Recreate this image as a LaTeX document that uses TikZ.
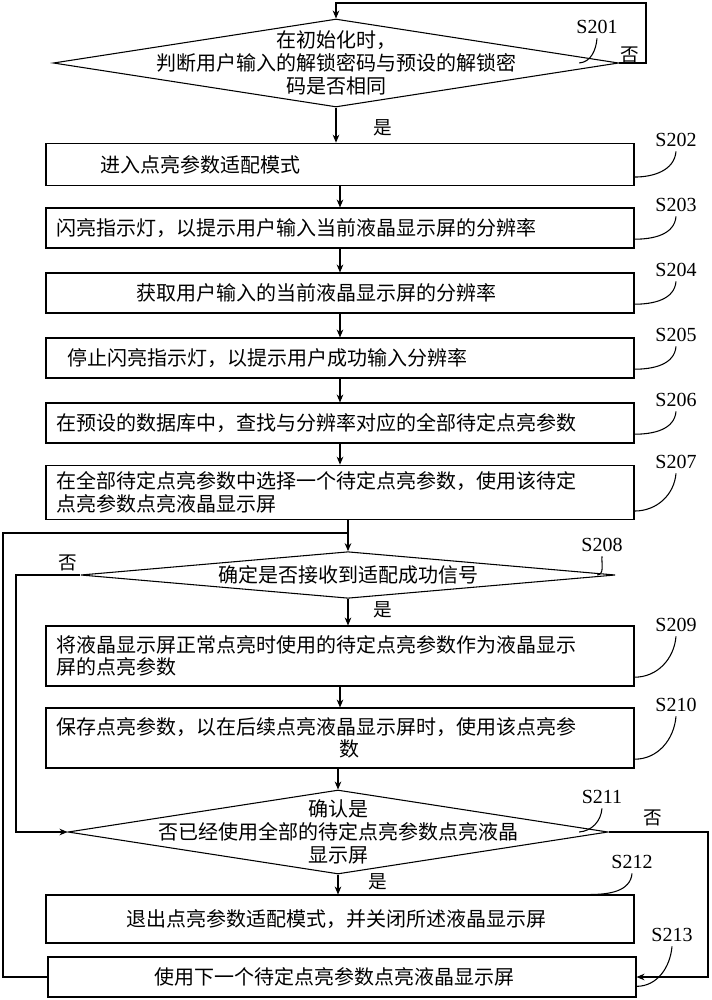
\documentclass[tikz,border=0pt]{standalone}
\usepackage{fontspec}
\setmainfont{Liberation Serif}
\newfontfamily\cjk{Noto Sans CJK SC}
\usetikzlibrary{shapes.geometric,arrows.meta}
\tikzset{
  box/.style={draw, thick, minimum width=441pt, inner sep=0pt, font=\cjk\fontsize{15}{17}\selectfont},
  dia/.style={draw, thick, diamond, inner sep=0pt},
  txt/.style={font=\cjk\fontsize{15}{17}\selectfont, align=center},
  lbl/.style={font=\fontsize{15}{17}\selectfont},
  yn/.style={font=\cjk\fontsize{14}{16}\selectfont},
  flow/.style={thick, -{Stealth[length=6pt,width=5pt]}},
  lead/.style={thick}
}
\begin{document}
\begin{tikzpicture}[x=0.75pt, y=-0.75pt]
  \useasboundingbox (0,0) rectangle (711,1000);

  % decisions
  \node [dia, minimum width=424pt, minimum height=66pt] (d201) at (336,63) {};
  \node [txt] (t201) at (336,63) {在初始化时，\\判断用户输入的解锁密码与预设的解锁密\\码是否相同};
  \node [dia, minimum width=401pt, minimum height=35pt] (d208) at (348,575) {};
  \node [txt] (t208) at (348,575) {确定是否接收到适配成功信号};
  \node [dia, minimum width=405pt, minimum height=63pt] (d211) at (338,832) {};
  \node [txt] (t211) at (338,832) {确认是\\否已经使用全部的待定点亮参数点亮液晶\\显示屏};

  % process boxes
  \node [box, minimum height=32pt, text width=425pt, align=left] (b202) at (340,164.5) {\hspace{33pt}进入点亮参数适配模式};
  \node [box, minimum height=30pt, text width=425pt, align=left] (b203) at (340,228) {闪亮指示灯，以提示用户输入当前液晶显示屏的分辨率};
  \node [box, minimum height=30pt, text width=425pt, align=left] (b204) at (340,293) {\hspace{60pt}获取用户输入的当前液晶显示屏的分辨率};
  \node [box, minimum height=30pt, text width=425pt, align=left] (b205) at (340,358) {\hspace{8pt}停止闪亮指示灯，以提示用户成功输入分辨率};
  \node [box, minimum height=30pt, text width=425pt, align=left] (b206) at (340,423) {在预设的数据库中，查找与分辨率对应的全部待定点亮参数};
  \node [box, minimum height=41pt, text width=425pt, align=left] (b207) at (340,492.5) {在全部待定点亮参数中选择一个待定点亮参数，使用该待定\\点亮参数点亮液晶显示屏};
  \node [box, minimum height=45pt, text width=425pt, align=left] (b209) at (340,656) {将液晶显示屏正常点亮时使用的待定点亮参数作为液晶显示\\屏的点亮参数};
  \node [box, minimum height=45pt, text width=425pt, align=left] (b210) at (340,738) {保存点亮参数，以在后续点亮液晶显示屏时，使用该点亮参\\\hspace{212pt}数};
  \node [box, minimum height=36pt, text width=425pt, align=left] (b212) at (340,919) {\hspace{52pt}退出点亮参数适配模式，并关闭所述液晶显示屏};
  \node [box, minimum height=30pt, text width=425pt, align=left] (b213) at (342,977) {\hspace{72pt}使用下一个待定点亮参数点亮液晶显示屏};

  % step labels
  \node [lbl] (l201) at (597,27) {S201};
  \node [lbl] (l202) at (676,140) {S202};
  \node [lbl] (l203) at (676,205) {S203};
  \node [lbl] (l204) at (676,270) {S204};
  \node [lbl] (l205) at (676,335) {S205};
  \node [lbl] (l206) at (676,400) {S206};
  \node [lbl] (l207) at (676,462) {S207};
  \node [lbl] (l208) at (602,545) {S208};
  \node [lbl] (l209) at (676,625) {S209};
  \node [lbl] (l210) at (676,705) {S210};
  \node [lbl] (l211) at (602,797) {S211};
  \node [lbl] (l212) at (632,862) {S212};
  \node [lbl] (l213) at (672,935) {S213};

  \draw [lead] ([xshift=-30pt]d201.east) to [out=5, in=-95] (l201.south);
  \foreach \s in {202,203,204,205,206,207,209,210}
    \draw [lead] ([yshift=7pt]b\s.south east) to [out=0, in=-95] (l\s.south);
  \draw [lead] ([xshift=-14pt]d208.east) to [out=5, in=-95] (l208.south);
  \draw [lead] ([xshift=-22pt]d211.east) to [out=5, in=-95] (l211.south);
  \draw [lead] ([xshift=-33pt]b212.north east) to [out=0, in=-95] (l212.south);
  \draw [lead] ([yshift=-7pt]b213.east) to [out=0, in=-95] (l213.south);

  % yes / no
  \node [yn] (y201) at (383,128) {是};
  \node [yn] (y208) at (383,610) {是};
  \node [yn] (y211) at (378,882) {是};
  \node [yn] (n201) at (630,55) {否};
  \node [yn] (n208) at (68,563) {否};
  \node [yn] (n211) at (653,818) {否};

  % flow
  \draw [flow] (d201.south) -- (d201.south |- b202.north);
  \foreach \a/\b in {202/203,203/204,204/205,205/206,206/207,209/210}
    \draw [flow] (b\a.south) -- (b\b.north);
  \draw [flow] (b207.south -| d208.north) -- (d208.north);
  \draw [flow] (d208.south) -- (d208.south |- b209.north);
  \draw [flow] (b210.south -| d211.north) -- (d211.north);
  \draw [flow] (d211.south) -- (d211.south |- b212.north);

  \coordinate (c201) at (646,3);
  \draw [flow] (d201.east) -| (c201) -| (d201.north);
  \coordinate (c213) at (3,533);
  \draw [thick] (b213.west) -| (c213) -- (c213 -| d208.north);
  \coordinate (c208) at (16,575);
  \draw [flow] (d208.west) -- (c208) |- (d211.west);
  \coordinate (c211) at (708,832);
  \draw [flow] (d211.east) -- (c211) |- (b213.east);
\end{tikzpicture}
\end{document}
